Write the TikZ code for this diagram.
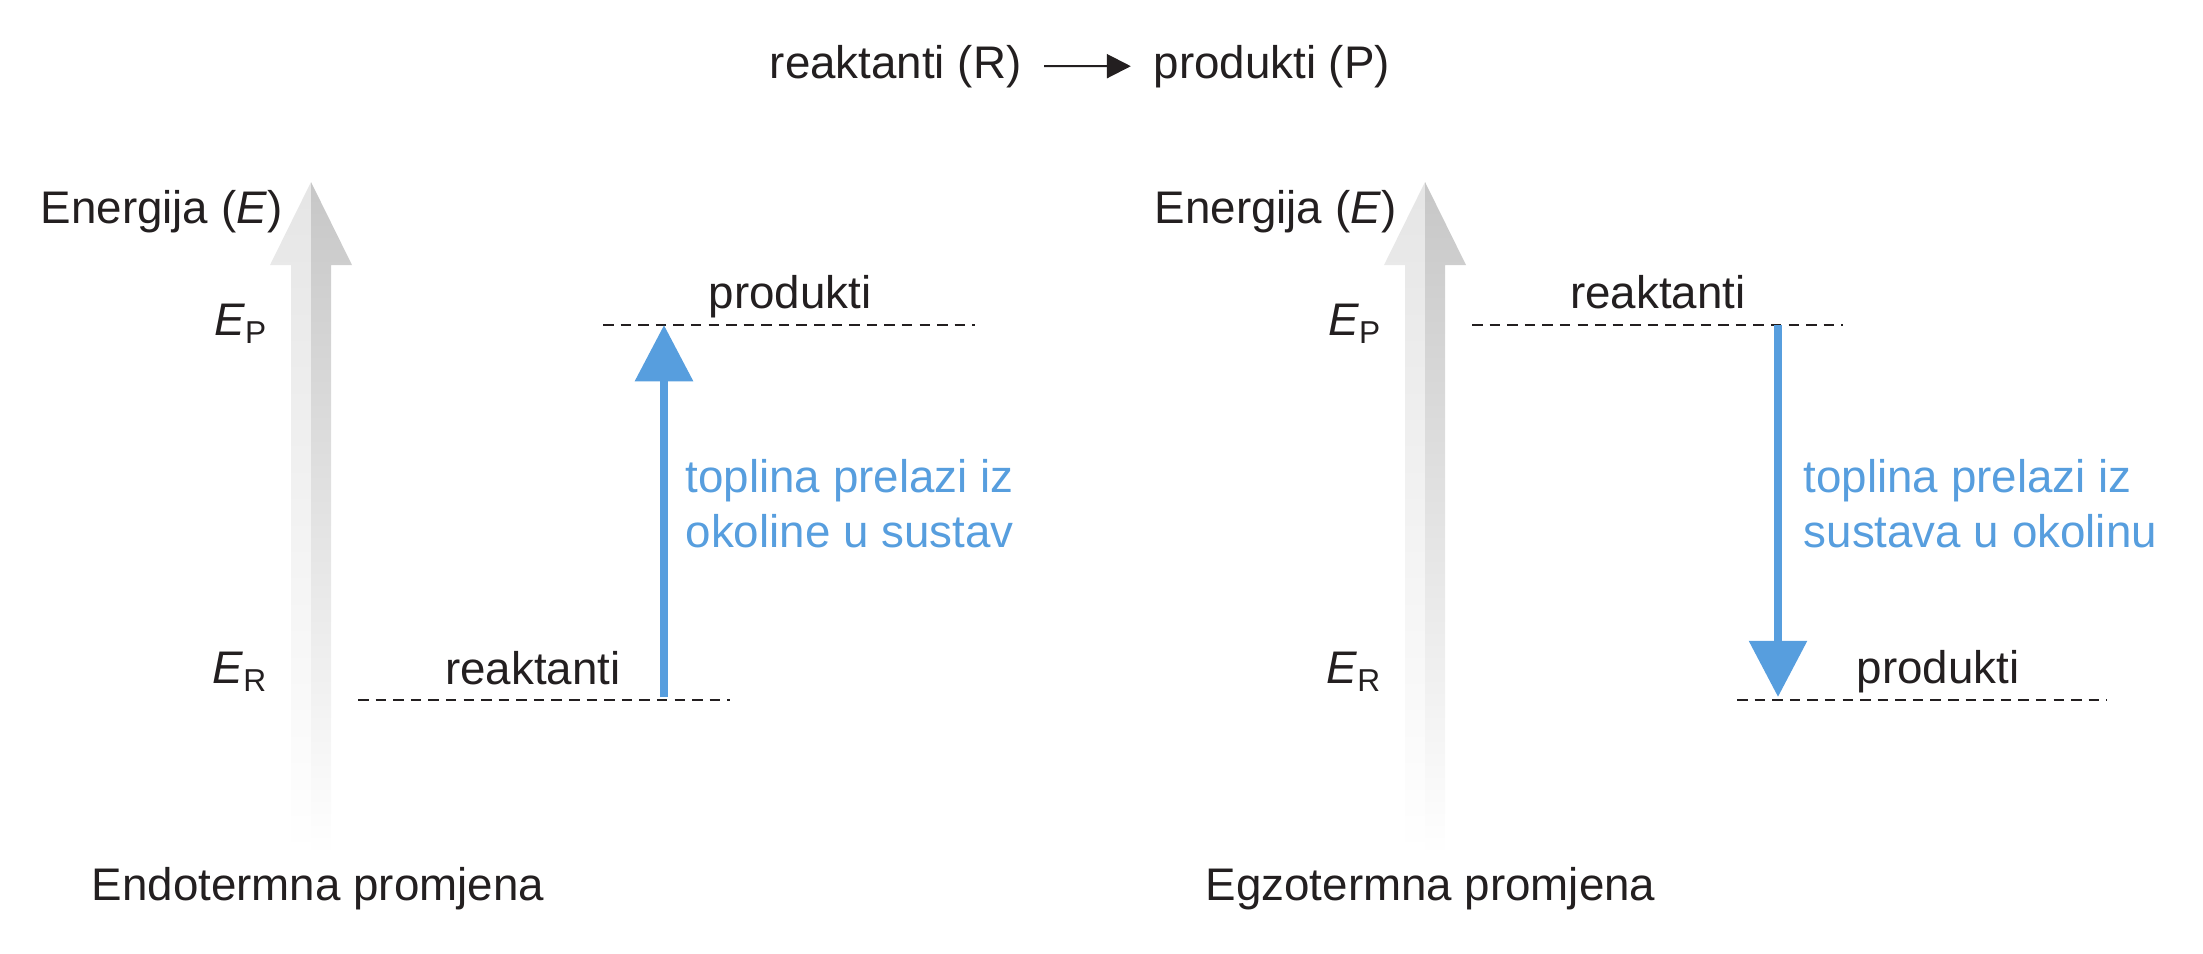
\documentclass[tikz,border=0pt]{standalone}
\usepackage{fontspec}
\setmainfont{Liberation Sans}
\usetikzlibrary{arrows.meta}
\definecolor{textdark}{RGB}{35,31,32}
\definecolor{heatblue}{RGB}{87,158,222}
\newcommand{\elevel}[1]{\textit{E}\raisebox{-2.4pt}{\fontsize{9pt}{10pt}\selectfont #1}}
\tikzset{
  lbl/.style={inner sep=0pt,text=textdark,font=\fontsize{13pt}{15.6pt}\selectfont},
  heat/.style={lbl,text=heatblue,align=left},
  levelline/.style={draw=textdark,line width=0.7pt,dash pattern=on 3pt off 2pt},
  heatarrow/.style={draw=heatblue,line width=2.5pt,-{Triangle[length=16pt,width=16pt]}},
  axisleft/.style={top color=black!10,middle color=black!7,bottom color=white},
  axisright/.style={top color=black!22,middle color=black!15,bottom color=white},
}
\begin{document}
\begin{tikzpicture}[x=0.01cm,y=-0.01cm]
  \useasboundingbox (0,0) rectangle (2203,953);
  \node[lbl,anchor=base east] (titleR) at (1022,78) {reaktanti (R)};
  \node[lbl,anchor=base west] (titleP) at (1153,78) {produkti (P)};
  \draw[textdark,line width=0.6pt,-{Triangle[length=6.8pt,width=6.8pt]},shorten <=6.3pt,shorten >=6.3pt] (titleR) -- (titleP);
  \foreach \dx/\name in {0/endo,1114/exo} {
    \begin{scope}[xshift=\dx*0.01cm]
      \shade[axisleft] (311,182) -- (270,265) -- (291,265) -- (291,855) -- (311,855) -- cycle;
      \shade[axisright] (311,182) -- (352,265) -- (331,265) -- (331,855) -- (311,855) -- cycle;
      \node[lbl,anchor=base west] (energy\name) at (40,223) {Energija (\textit{E})};
      \node[lbl,anchor=base east] (ep\name) at (267,335) {\elevel{P}};
      \node[lbl,anchor=base east] (er\name) at (267,683) {\elevel{R}};
    \end{scope}
  }
  \node[lbl,anchor=base west] (endoname) at (91,900) {Endotermna promjena};
  \node[lbl,anchor=base west] (exoname) at (1205,900) {Egzotermna promjena};
  % endotermna
  \draw[levelline] (603,325) -- (975,325);
  \draw[levelline] (358,700) -- (730,700);
  \node[lbl,anchor=base] (endoprod) at (790,308) {produkti};
  \node[lbl,anchor=base] (endoreak) at (533,684) {reaktanti};
  \coordinate (endotop) at (664,325);
  \coordinate (endobottom) at (664,697);
  \draw[heatarrow] (endobottom) -- (endotop);
  \node[heat,anchor=base west] (endoheat) at (685,547) {toplina prelazi iz\\okoline u sustav};
  % egzotermna
  \draw[levelline] (1472,325) -- (1843,325);
  \draw[levelline] (1737,700) -- (2107,700);
  \node[lbl,anchor=base] (exoreak) at (1658,308) {reaktanti};
  \node[lbl,anchor=base] (exoprod) at (1938,683) {produkti};
  \coordinate (exotop) at (1778,325);
  \coordinate (exobottom) at (1778,697);
  \draw[heatarrow] (exotop) -- (exobottom);
  \node[heat,anchor=base west] (exoheat) at (1803,547) {toplina prelazi iz\\sustava u okolinu};
\end{tikzpicture}
\end{document}
